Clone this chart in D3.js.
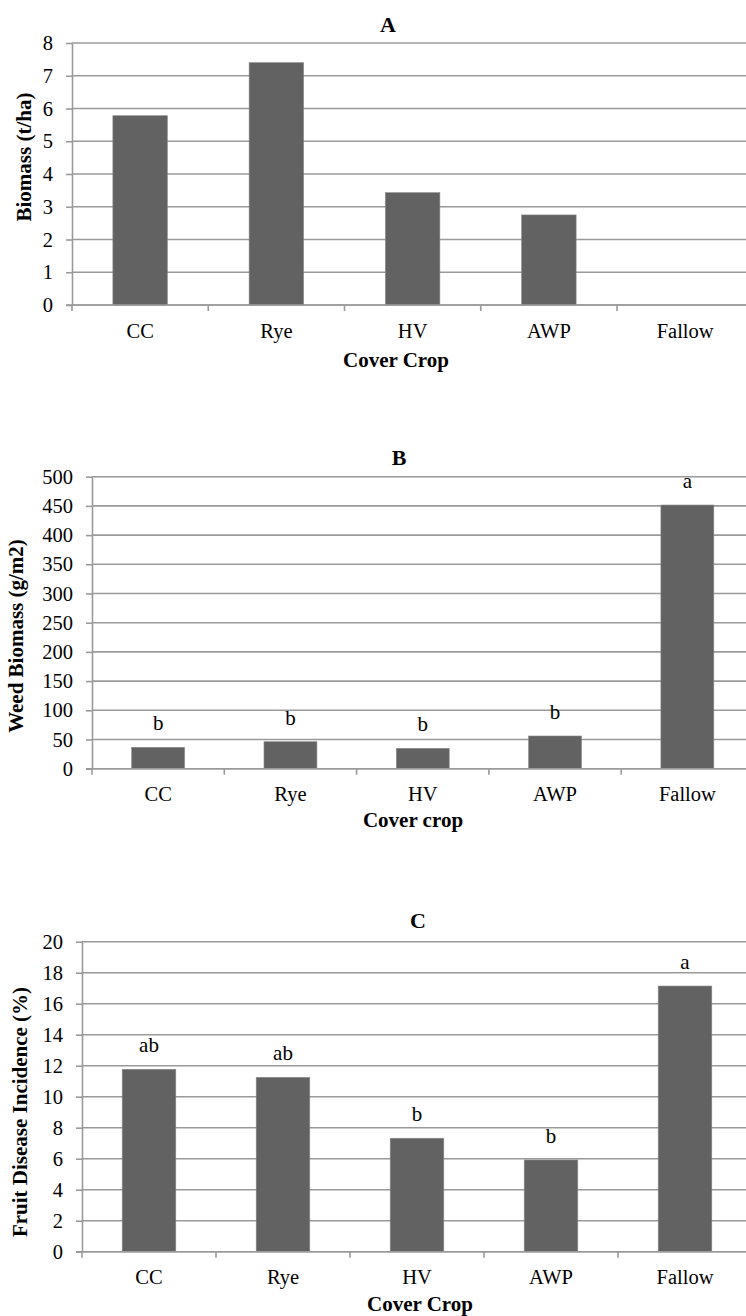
<!DOCTYPE html>
<html>
<head>
<meta charset="utf-8">
<script src="https://cdn.jsdelivr.net/npm/d3@7"></script>
<style>
  body { margin: 0; background: #fff; }
  svg { display: block; font-family: "Liberation Serif", "Times New Roman", serif; }
</style>
</head>
<body>
<svg id="chart" width="746" height="1316"></svg>
<script>
// data
const crops = ["CC", "Rye", "HV", "AWP", "Fallow"];

const biomassA = [5.78, 7.40, 3.43, 2.75, 0];
const ticksA = [0, 1, 2, 3, 4, 5, 6, 7, 8];

const weedB = [36.6, 46.2, 34.9, 56, 451.5];
const lettersB = ["b", "b", "b", "b", "a"];
const ticksB = [0, 50, 100, 150, 200, 250, 300, 350, 400, 450, 500];

const diseaseC = [11.77, 11.25, 7.32, 5.92, 17.14];
const lettersC = ["ab", "ab", "b", "b", "a"];
const ticksC = [0, 2, 4, 6, 8, 10, 12, 14, 16, 18, 20];

const svg = d3.select("#chart");
const gridColor = "#9a9a9a";
const barColor = "#626262";

function drawPanel(p) {
  const g = svg.append("g");
  const x = d3.scaleBand()
    .domain(crops)
    .range([p.left, p.left + p.band * crops.length])
    .padding(0);
  const y = d3.scaleLinear()
    .domain([0, d3.max(p.ticks)])
    .range([p.bottom, p.top]);
  const plotRight = p.left + p.band * crops.length;

  // gridlines
  g.selectAll("line.grid").data(p.ticks).enter().append("line")
    .attr("class", "grid")
    .attr("x1", p.left).attr("x2", plotRight)
    .attr("y1", d => y(d)).attr("y2", d => y(d))
    .attr("stroke", gridColor).attr("stroke-width", 1.6);

  // y axis
  const yAxis = g.append("g")
    .attr("transform", `translate(${p.left},0)`)
    .call(d3.axisLeft(y).tickValues(p.ticks).tickSize(6).tickSizeOuter(0).tickPadding(13));
  yAxis.attr("font-family", "Liberation Serif").attr("font-size", 20.5);
  yAxis.select(".domain").attr("stroke", gridColor).attr("stroke-width", 1.6);
  yAxis.selectAll(".tick line").attr("stroke", gridColor).attr("stroke-width", 1.6);
  yAxis.selectAll(".tick text").attr("fill", "#000");

  // x axis labels
  const xAxis = g.append("g")
    .attr("transform", `translate(0,${p.bottom})`)
    .call(d3.axisBottom(x).tickSize(0).tickPadding(18));
  xAxis.attr("font-family", "Liberation Serif").attr("font-size", 20.5);
  xAxis.select(".domain").remove();
  xAxis.selectAll(".tick text").attr("fill", "#000");

  // x boundary ticks
  g.selectAll("line.xt").data(crops).enter().append("line")
    .attr("class", "xt")
    .attr("x1", d => x(d)).attr("x2", d => x(d))
    .attr("y1", p.bottom).attr("y2", p.bottom + 6)
    .attr("stroke", gridColor).attr("stroke-width", 1.6);

  // bars
  const bw = x.bandwidth() * 0.4;
  g.selectAll("rect.bar").data(p.values).enter().append("rect")
    .attr("class", "bar")
    .attr("x", (d, i) => x(crops[i]) + (x.bandwidth() - bw) / 2)
    .attr("y", d => y(d))
    .attr("width", bw)
    .attr("height", d => y(0) - y(d))
    .attr("fill", barColor)
    .attr("stroke", "#8a8a8a").attr("stroke-width", 0.6);

  // x axis baseline drawn over the bars
  g.append("line")
    .attr("x1", p.left - 6).attr("x2", plotRight)
    .attr("y1", p.bottom).attr("y2", p.bottom)
    .attr("stroke", gridColor).attr("stroke-width", 1.6);

  // significance letters
  if (p.letters) {
    g.selectAll("text.letter").data(p.values).enter().append("text")
      .attr("class", "letter")
      .attr("x", (d, i) => x(crops[i]) + x.bandwidth() / 2)
      .attr("y", d => y(d) - 17)
      .attr("text-anchor", "middle")
      .attr("font-size", 21)
      .text((d, i) => p.letters[i]);
  }

  // panel title
  g.append("text")
    .attr("x", p.titleX).attr("y", p.titleY)
    .attr("text-anchor", "middle").attr("dominant-baseline", "central")
    .attr("font-size", 22).attr("font-weight", "bold")
    .text(p.title);

  // x title
  g.append("text")
    .attr("x", p.xTitleX).attr("y", p.xTitleY)
    .attr("text-anchor", "middle").attr("dominant-baseline", "central")
    .attr("font-size", 21).attr("font-weight", "bold")
    .text(p.xTitle);

  // y title
  g.append("text")
    .attr("transform", `translate(${p.yTitleX},${p.yTitleY}) rotate(-90)`)
    .attr("text-anchor", "middle").attr("dominant-baseline", "central")
    .attr("font-size", 21).attr("font-weight", "bold")
    .text(p.yTitle);
}

drawPanel({
  values: biomassA, ticks: ticksA, letters: null,
  left: 72, top: 43, bottom: 305, band: 136.25,
  title: "A", titleX: 388, titleY: 24,
  xTitle: "Cover Crop", xTitleX: 396, xTitleY: 360,
  yTitle: "Biomass (t/ha)", yTitleX: 24, yTitleY: 157
});

drawPanel({
  values: weedB, ticks: ticksB, letters: lettersB,
  left: 92, top: 476.7, bottom: 768.7, band: 132.3,
  title: "B", titleX: 399, titleY: 457,
  xTitle: "Cover crop", xTitleX: 413, xTitleY: 820,
  yTitle: "Weed Biomass (g/m2)", yTitleX: 16, yTitleY: 636
});

drawPanel({
  values: diseaseC, ticks: ticksC, letters: lettersC,
  left: 82, top: 941.7, bottom: 1251.7, band: 134,
  title: "C", titleX: 418, titleY: 920,
  xTitle: "Cover Crop", xTitleX: 420, xTitleY: 1304,
  yTitle: "Fruit Disease Incidence (%)", yTitleX: 20, yTitleY: 1112
});
</script>
</body>
</html>
